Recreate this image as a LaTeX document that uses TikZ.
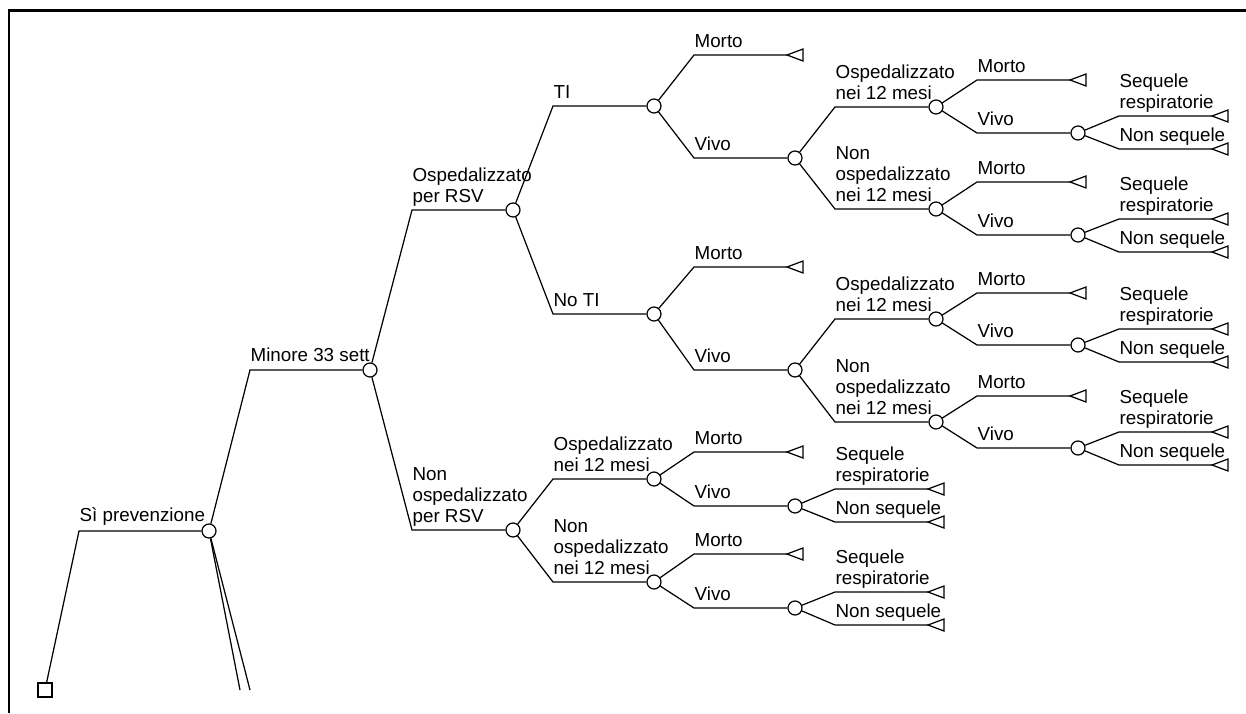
\documentclass[tikz,border=0pt]{standalone}
\usepackage{fontspec}
\setmainfont{Liberation Sans}
\usepackage{tikz}

\begin{document}
\begin{tikzpicture}[x=0.02cm,y=-0.02cm,line width=0.7pt,
    chance/.style={draw,circle,fill=white,inner sep=0pt,minimum size=0.28cm},
    decision/.style={draw,rectangle,fill=white,inner sep=0pt,minimum size=0.28cm},
    lbl/.style={anchor=south west,inner sep=0pt,align=left,
      font=\fontsize{10.7}{12.2}\selectfont,execute at end node=\strut},
    endtri/.pic={\draw (0,0) -- (16,-6) -- (16,6) -- cycle;}]
\useasboundingbox (0,0) rectangle (1246,713);
\draw [line width=1.4pt] (9,713) -- (9,10.5) -- (1246,10.5);
    \node[decision] (d0) at (45,690) {};
    \node[chance] (c1) at (209,531) {};
    \node[chance] (c2) at (370,370) {};
    \node[chance] (c3) at (513,210) {};
    \node[chance] (c4) at (513,530) {};
    \node[chance] (c5) at (654,106) {};
    \node[chance] (c6) at (654,314) {};
    \node[chance] (c7) at (795,158) {};
    \node[chance] (c8) at (936,107) {};
    \node[chance] (c9) at (936,209) {};
    \node[chance] (c10) at (1078,133) {};
    \node[chance] (c11) at (1078,235) {};
    \node[chance] (c12) at (795,370) {};
    \node[chance] (c13) at (936,319) {};
    \node[chance] (c14) at (936,422) {};
    \node[chance] (c15) at (1078,345) {};
    \node[chance] (c16) at (1078,448) {};
    \node[chance] (c17) at (654,479) {};
    \node[chance] (c18) at (654,582) {};
    \node[chance] (c19) at (795,506) {};
    \node[chance] (c20) at (795,608) {};
    \coordinate (cutA) at (240,690);
    \coordinate (cutB) at (250,690);
    \coordinate (t1) at (787,55);
    \coordinate (t2) at (1070,80);
    \coordinate (t3) at (1212,116);
    \coordinate (t4) at (1212,149);
    \coordinate (t5) at (1070,182);
    \coordinate (t6) at (1212,219);
    \coordinate (t7) at (1212,252);
    \coordinate (t8) at (787,267);
    \coordinate (t9) at (1070,293);
    \coordinate (t10) at (1212,329);
    \coordinate (t11) at (1212,362);
    \coordinate (t12) at (1070,396);
    \coordinate (t13) at (1212,432);
    \coordinate (t14) at (1212,465);
    \coordinate (t15) at (787,452);
    \coordinate (t16) at (928,489);
    \coordinate (t17) at (928,522);
    \coordinate (t18) at (787,554);
    \coordinate (t19) at (928,592);
    \coordinate (t20) at (928,625);
    \draw (d0) -- (79,531) node[lbl,yshift=0.05cm] (l1) {Sì prevenzione} -- (c1);
    \draw (c1) -- (cutA);
    \draw (c1) -- (cutB);
    \draw (c1) -- (250,370) node[lbl,yshift=0.03cm] (l2) {Minore 33 sett} -- (c2);
    \draw (c2) -- (412,210) node[lbl] (l3) {Ospedalizzato\\per RSV} -- (c3);
    \draw (c2) -- (412,530) node[lbl] (l4) {Non\\ospedalizzato\\per RSV} -- (c4);
    \draw (c3) -- (553,106) node[lbl] (l5) {TI} -- (c5);
    \draw (c3) -- (553,314) node[lbl] (l6) {No TI} -- (c6);
    \draw (c5) -- (694,55) node[lbl] (lt1) {Morto} -- (t1);
    \draw (c5) -- (694,158) node[lbl] (l7) {Vivo} -- (c7);
    \draw (c7) -- (835,107) node[lbl] (l8) {Ospedalizzato\\nei 12 mesi} -- (c8);
    \draw (c7) -- (835,209) node[lbl] (l9) {Non\\ospedalizzato\\nei 12 mesi} -- (c9);
    \draw (c8) -- (977,80) node[lbl] (lt2) {Morto} -- (t2);
    \draw (c8) -- (977,133) node[lbl] (l10) {Vivo} -- (c10);
    \draw (c10) -- (1119,116) node[lbl] (lt3) {Sequele\\respiratorie} -- (t3);
    \draw (c10) -- (1119,149) node[lbl] (lt4) {Non sequele} -- (t4);
    \draw (c9) -- (977,182) node[lbl] (lt5) {Morto} -- (t5);
    \draw (c9) -- (977,235) node[lbl] (l11) {Vivo} -- (c11);
    \draw (c11) -- (1119,219) node[lbl] (lt6) {Sequele\\respiratorie} -- (t6);
    \draw (c11) -- (1119,252) node[lbl] (lt7) {Non sequele} -- (t7);
    \draw (c6) -- (694,267) node[lbl] (lt8) {Morto} -- (t8);
    \draw (c6) -- (694,370) node[lbl] (l12) {Vivo} -- (c12);
    \draw (c12) -- (835,319) node[lbl] (l13) {Ospedalizzato\\nei 12 mesi} -- (c13);
    \draw (c12) -- (835,422) node[lbl] (l14) {Non\\ospedalizzato\\nei 12 mesi} -- (c14);
    \draw (c13) -- (977,293) node[lbl] (lt9) {Morto} -- (t9);
    \draw (c13) -- (977,345) node[lbl] (l15) {Vivo} -- (c15);
    \draw (c15) -- (1119,329) node[lbl] (lt10) {Sequele\\respiratorie} -- (t10);
    \draw (c15) -- (1119,362) node[lbl] (lt11) {Non sequele} -- (t11);
    \draw (c14) -- (977,396) node[lbl] (lt12) {Morto} -- (t12);
    \draw (c14) -- (977,448) node[lbl] (l16) {Vivo} -- (c16);
    \draw (c16) -- (1119,432) node[lbl] (lt13) {Sequele\\respiratorie} -- (t13);
    \draw (c16) -- (1119,465) node[lbl] (lt14) {Non sequele} -- (t14);
    \draw (c4) -- (553,479) node[lbl] (l17) {Ospedalizzato\\nei 12 mesi} -- (c17);
    \draw (c4) -- (553,582) node[lbl] (l18) {Non\\ospedalizzato\\nei 12 mesi} -- (c18);
    \draw (c17) -- (694,452) node[lbl] (lt15) {Morto} -- (t15);
    \draw (c17) -- (694,506) node[lbl] (l19) {Vivo} -- (c19);
    \draw (c19) -- (835,489) node[lbl] (lt16) {Sequele\\respiratorie} -- (t16);
    \draw (c19) -- (835,522) node[lbl] (lt17) {Non sequele} -- (t17);
    \draw (c18) -- (694,554) node[lbl] (lt18) {Morto} -- (t18);
    \draw (c18) -- (694,608) node[lbl] (l20) {Vivo} -- (c20);
    \draw (c20) -- (835,592) node[lbl] (lt19) {Sequele\\respiratorie} -- (t19);
    \draw (c20) -- (835,625) node[lbl] (lt20) {Non sequele} -- (t20);
    \foreach \i in {1,...,20} \pic at (t\i) {endtri};
\end{tikzpicture}
\end{document}
